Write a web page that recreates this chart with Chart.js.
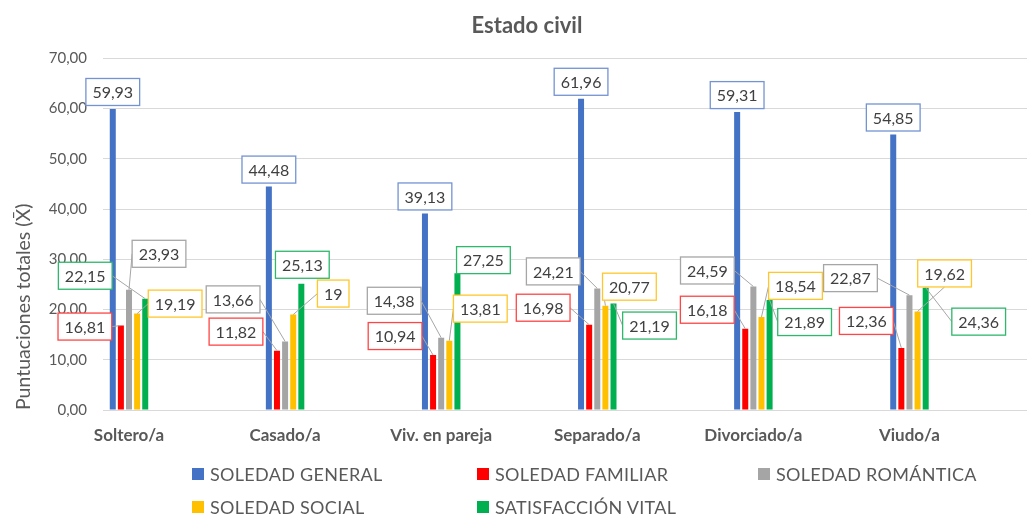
<!DOCTYPE html>
<html>
<head>
<meta charset="utf-8">
<script src="https://cdn.jsdelivr.net/npm/chart.js@4/dist/chart.umd.min.js"></script>
<style>
  html, body { margin: 0; padding: 0; background: #fff; overflow: hidden; }
  #wrap { position: relative; width: 1027px; height: 514px; }
  .leg { position: absolute; display: flex; align-items: center; height: 20px;
         font: 18px Lato, sans-serif; letter-spacing: 0.3px; color: #595959; white-space: nowrap; }
  .leg span.box { display: inline-block; width: 12px; height: 12px; margin-right: 6px; }
</style>
</head>
<body>
<div id="wrap">
  <canvas id="chart" width="1027" height="514"></canvas>
  <div id="legend"></div>
</div>
<script>
// Categories and series
const categories = ['Soltero/a', 'Casado/a', 'Viv. en pareja', 'Separado/a', 'Divorciado/a', 'Viudo/a'];
const seriesNames = ['SOLEDAD GENERAL', 'SOLEDAD FAMILIAR', 'SOLEDAD ROMÁNTICA', 'SOLEDAD SOCIAL', 'SATISFACCIÓN VITAL'];
const soledadGeneral = [59.93, 44.48, 39.13, 61.96, 59.31, 54.85];
const soledadFamiliar = [16.81, 11.82, 10.94, 16.98, 16.18, 12.36];
const soledadRomantica = [23.93, 13.66, 14.38, 24.21, 24.59, 22.87];
const soledadSocial = [19.19, 19, 13.81, 20.77, 18.54, 19.62];
const satisfaccionVital = [22.15, 25.13, 27.25, 21.19, 21.89, 24.36];
const yTicks = [0, 10, 20, 30, 40, 50, 60, 70];

// Styles
const barColors = ['#4472C4', '#FF0000', '#A5A5A5', '#FFC000', '#00B050'];
const boxColors = ['#7393D3', '#FF4545', '#A6A6A6', '#FFC72C', '#2DB86A'];
const textGrey = '#595959';

// Callout label offsets from bar top (px), per series then category
const labelOffsets = [
  [[0, -17], [0, -17], [0, -17], [0, -17], [0, -17], [0, -17]],
  [[-36, 1], [-41, -19], [-38, -19], [-46, -17], [-38, -19], [-35, -27]],
  [[30, -36], [-52, -42], [-47, -37], [-44, -17], [-46, -16], [-59, -17]],
  [[38, -10], [40, -21], [31, -32], [24, -19], [34, -31], [27, -38]],
  [[-60, -23], [1, -19], [26, -13], [36, 22], [35, 22], [53, 34]]
];

const allValues = [soledadGeneral, soledadFamiliar, soledadRomantica, soledadSocial, satisfaccionVital];

const fmt = v => String(v).replace('.', ',');

// Excel style data callouts with leader lines
const calloutPlugin = {
  id: 'callouts',
  afterDatasetsDraw(chart) {
    const ctx = chart.ctx;
    ctx.save();
    ctx.font = '16px Lato, sans-serif';
    const boxes = [];
    chart.data.datasets.forEach((ds, i) => {
      const meta = chart.getDatasetMeta(i);
      meta.data.forEach((bar, j) => {
        const [dx, dy] = labelOffsets[i][j];
        const text = fmt(ds.data[j].y);
        const w = ctx.measureText(text).width + 13;
        const h = 27;
        const cx = bar.x + dx, cy = bar.y + dy;
        boxes.push({ i, text, w, h, cx, cy, bx: bar.x, by: bar.y });
      });
    });
    // leader lines first
    ctx.strokeStyle = '#A6A6A6';
    ctx.lineWidth = 1;
    boxes.forEach(b => {
      const pts = [
        [b.cx - b.w / 2, b.cy], [b.cx + b.w / 2, b.cy],
        [b.cx, b.cy - b.h / 2], [b.cx, b.cy + b.h / 2]
      ];
      let best = pts[0], bd = Infinity;
      pts.forEach(p => {
        const d = Math.hypot(p[0] - b.bx, p[1] - b.by);
        if (d < bd) { bd = d; best = p; }
      });
      if (bd > 6) {
        ctx.beginPath();
        ctx.moveTo(best[0], best[1]);
        ctx.lineTo(b.bx, b.by);
        ctx.stroke();
      }
    });
    // boxes and text
    ctx.textAlign = 'center';
    ctx.textBaseline = 'middle';
    boxes.forEach(b => {
      const x = b.cx - b.w / 2, y = b.cy - b.h / 2;
      ctx.fillStyle = '#fff';
      ctx.fillRect(x, y, b.w, b.h);
      ctx.strokeStyle = boxColors[b.i];
      ctx.lineWidth = 1.3;
      ctx.strokeRect(x, y, b.w, b.h);
      ctx.fillStyle = '#404040';
      ctx.fillText(b.text, b.cx, b.cy + 1);
    });
    ctx.restore();
  }
};

const ctx = document.getElementById('chart').getContext('2d');
const chart = new Chart(ctx, {
  type: 'bar',
  data: {
    datasets: allValues.map((vals, i) => ({
      label: seriesNames[i],
      data: vals.map((v, j) => ({ x: j, y: v })),
      backgroundColor: barColors[i],
      borderWidth: 0,
      categoryPercentage: 0.26,
      barPercentage: 0.74
    }))
  },
  options: {
    responsive: false,
    animation: false,
    layout: { padding: { left: 0, right: -27, top: 0, bottom: 60 } },
    plugins: {
      legend: { display: false },
      tooltip: { enabled: false },
      title: {
        display: true,
        text: 'Estado civil',
        color: textGrey,
        font: { family: 'Lato', size: 22, weight: 'bold' },
        padding: { top: 13, bottom: 19 }
      }
    },
    scales: {
      x: {
        type: 'linear',
        offset: false,
        min: -0.1666,
        max: 5.753,
        grid: { display: false },
        border: { display: false },
        afterBuildTicks: s => { s.ticks = categories.map((_, i) => ({ value: i })); },
        afterFit: s => { s.height = 44; },
        ticks: {
          callback: v => categories[v],
          color: textGrey,
          font: { family: 'Lato', size: 17, weight: 'bold' },
          padding: 7,
          maxRotation: 0,
          autoSkip: false
        }
      },
      y: {
        min: 0,
        max: 70,
        afterBuildTicks: s => { s.ticks = yTicks.map(v => ({ value: v })); },
        afterFit: s => { s.width = 103; },
        grid: { color: '#D9D9D9', drawTicks: false, lineWidth: 1 },
        border: { display: false },
        ticks: {
          callback: v => v.toFixed(2).replace('.', ','),
          color: textGrey,
          font: { family: 'Lato', size: 15 },
          padding: 16
        },
        title: {
          display: true,
          text: 'Puntuaciones totales (X̄)',
          align: 'start',
          color: textGrey,
          font: { family: 'Lato', size: 19.5 },
          padding: { top: 12, bottom: 0 }
        }
      }
    }
  },
  plugins: [calloutPlugin]
});

// Legend in two rows, three columns
const legendEl = document.getElementById('legend');
const legendCols = [192, 477, 758];
const legendRows = [464, 497];
seriesNames.forEach((name, i) => {
  const d = document.createElement('div');
  d.className = 'leg';
  d.style.left = legendCols[i % 3] + 'px';
  d.style.top = legendRows[Math.floor(i / 3)] + 'px';
  d.innerHTML = `<span class="box" style="background:${barColors[i]}"></span>${name}`;
  legendEl.appendChild(d);
});
</script>
</body>
</html>
